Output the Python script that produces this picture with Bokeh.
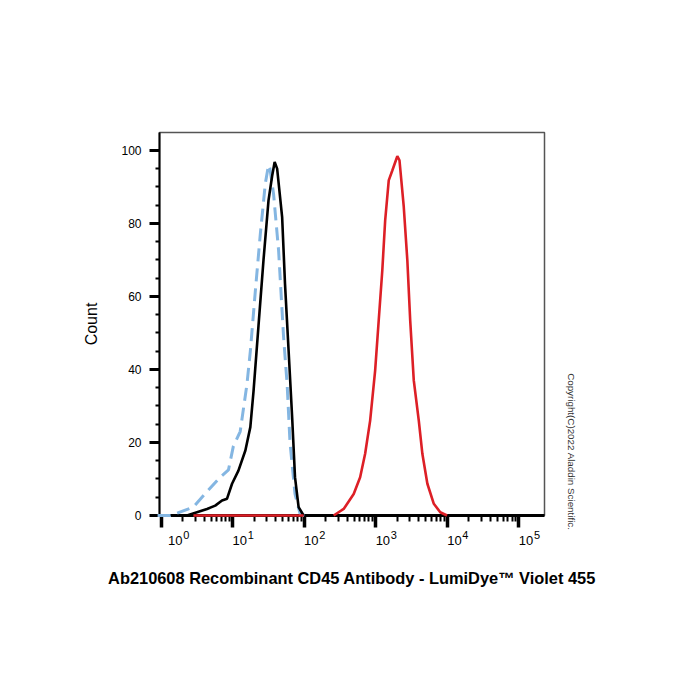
import math
from bokeh.plotting import figure
from bokeh.models import Range1d, FixedTicker, LogAxis, Title, CustomJSTickFormatter
from bokeh.embed import file_html
from bokeh.resources import INLINE

# ---------------- data ----------------
# unstained control (black solid)
black_x = [2.29, 3.16, 4.37, 5.69, 7.08, 8.32, 9.77, 12.0, 15.0, 17.6, 19.5, 22.9,
           26.9, 31.6, 35.5, 38.5, 41.7, 49.0, 53.7, 60.3, 67.6, 74.1, 83.2, 97.7]
black_y = [0, 0.9, 1.8, 2.7, 4.1, 4.6, 8.7, 12.3, 17.8, 24.2, 34, 52,
           70, 86.3, 93, 96.8, 95, 81.7, 63.5, 45.2, 26.9, 10.5, 2.3, 0]

# blank control (light-blue dashed)
blue_x = [0.89, 1.35, 2.82, 4.12, 6.68, 8.71, 10.2, 12.7, 15.8, 17.6, 20.7, 24.3,
          28.5, 31.6, 33.1, 37.2, 43.7, 51.3, 57.5, 63.1, 74.1, 87.1, 100]
blue_y = [0, 0, 2.3, 6, 10.5, 12.5, 19, 23, 36, 45, 61.6, 77.2,
          90.9, 96, 95, 88, 72.6, 48.9, 36, 20, 5.9, 0.5, 0]

# CD45 stained (red solid); NaN separates the baseline piece from the peak
red_x = [2.82, 97.7, float("nan"),
         257, 355, 490, 603, 708, 832, 977, 1096, 1230, 1349, 1514, 1698, 1995,
         2138, 2455, 2754, 3020, 3388, 3981, 4467, 5248, 6457, 7943, 9886]
red_y = [0, 0, float("nan"),
         0, 1.8, 5.9, 10.5, 16.9, 26, 39.7, 53.4, 67.1, 80.8, 91.8, 94.5, 98.4,
         97.3, 84.5, 69.9, 53.4, 37, 26, 16.9, 8.7, 3.2, 0.9, 0]

decade_ticks = [1, 10, 100, 1000, 10000, 100000]
decade_base = ["10", "10", "10", "10", "10", "10"]
decade_exp = ["0", "1", "2", "3", "4", "5"]
minor_mult = [2, 3, 4, 5, 6, 7, 8, 9]
y_ticks = [0, 20, 40, 60, 80, 100]
y_minor = [5, 10, 15, 25, 30, 35, 45, 50, 55, 65, 70, 75, 85, 90, 95]

y_label = "Count"
title_text = "Ab210608 Recombinant CD45 Antibody - LumiDye\u2122 Violet 455"
copyright_text = "Copyright(C)2022 Aladdin Scientific."

# ---------------- layout ----------------
W, H = 700, 700
FL, FR, FT, FB = 159, 544, 132, 515
X0, X1 = 10 ** -0.024, 10 ** 5.357
Y0, Y1 = 0.0, 104.9
PX_PER_DECADE = (FR - FL) / (math.log10(X1) - math.log10(X0))
BASE_SHIFT_PX = [14, 7, 7, 7, 7, 7]     # centre of "10" right of the tick
EXP_SHIFT_PX = [25, 18, 18, 18, 18, 18]  # centre of the exponent right of the tick

p = figure(width=W, height=H, x_axis_type="log",
           x_range=Range1d(X0, X1), y_range=Range1d(Y0, Y1),
           output_backend="svg", toolbar_location=None,
           min_border_left=FL, min_border_right=W - FR,
           min_border_top=FT, min_border_bottom=H - FB)
p.background_fill_color = "white"
p.border_fill_color = "white"
p.outline_line_color = "#555555"
p.outline_line_width = 1.5
p.xgrid.visible = False
p.ygrid.visible = False

FONT = "Liberation Sans"

# x axis: ticks only
minor_x = [m * t for t in decade_ticks[:-1] for m in minor_mult]
xa = p.xaxis[0]
xa.ticker = FixedTicker(ticks=decade_ticks, minor_ticks=minor_x)
xa.axis_line_width = 3
xa.axis_line_color = "black"
xa.major_tick_in = 0
xa.major_tick_out = 12
xa.major_tick_line_width = 3.5
xa.minor_tick_in = 0
xa.minor_tick_out = 6
xa.minor_tick_line_width = 2
xa.major_label_text_color = None
xa.major_label_text_font_size = "0px"
xa.major_label_standoff = 0


def label_axis(texts, shifts, size, standoff):
    pos = [t * 10 ** (s / PX_PER_DECADE) for t, s in zip(decade_ticks, shifts)]
    ax = LogAxis(ticker=FixedTicker(ticks=pos, minor_ticks=[]),
                 formatter=CustomJSTickFormatter(args=dict(labels=texts),
                                                 code="return labels[index]"))
    ax.axis_line_color = None
    ax.major_tick_line_color = None
    ax.minor_tick_line_color = None
    ax.major_tick_out = 0
    ax.major_tick_in = 0
    ax.major_label_standoff = standoff
    ax.major_label_text_font = FONT
    ax.major_label_text_font_size = size
    ax.major_label_text_color = "black"
    p.add_layout(ax, "below")


# exponents first (higher), then the "10" bases pulled back up beside them
label_axis(decade_exp, EXP_SHIFT_PX, "11px", 3)
label_axis(decade_base, BASE_SHIFT_PX, "13px", -6)

ya = p.yaxis[0]
ya.ticker = FixedTicker(ticks=y_ticks, minor_ticks=y_minor)
ya.axis_line_width = 2
ya.major_tick_in = 0
ya.major_tick_out = 10
ya.major_tick_line_width = 3
ya.minor_tick_in = 0
ya.minor_tick_out = 4
ya.minor_tick_line_width = 2
ya.major_label_text_font = FONT
ya.major_label_text_font_size = "12px"
ya.major_label_text_color = "black"
ya.major_label_standoff = 8
ya.axis_label = y_label
ya.axis_label_text_font = FONT
ya.axis_label_text_font_size = "16px"
ya.axis_label_text_font_style = "normal"
ya.axis_label_text_color = "black"
ya.axis_label_standoff = 18

# curves
p.line(blue_x, blue_y, line_color="#84b6e2", line_width=3, line_dash="13 7", level="overlay")
p.line(black_x, black_y, line_color="black", line_width=2.6, level="overlay")
p.line(red_x, red_y, line_color="#dd1f26", line_width=2.6, level="overlay")

# bottom title
p.add_layout(Title(text=title_text, align="center", text_font=FONT,
                   text_font_size="16.4px", text_font_style="bold",
                   text_color="black", standoff=39), "below")

# copyright, vertical on the right
p.add_layout(Title(text=copyright_text, align="right", offset=-15, text_font=FONT,
                   text_font_size="9.8px", text_font_style="normal",
                   text_color="#333333", standoff=43), "right")

open("out.html", "w").write(file_html(p, INLINE))
